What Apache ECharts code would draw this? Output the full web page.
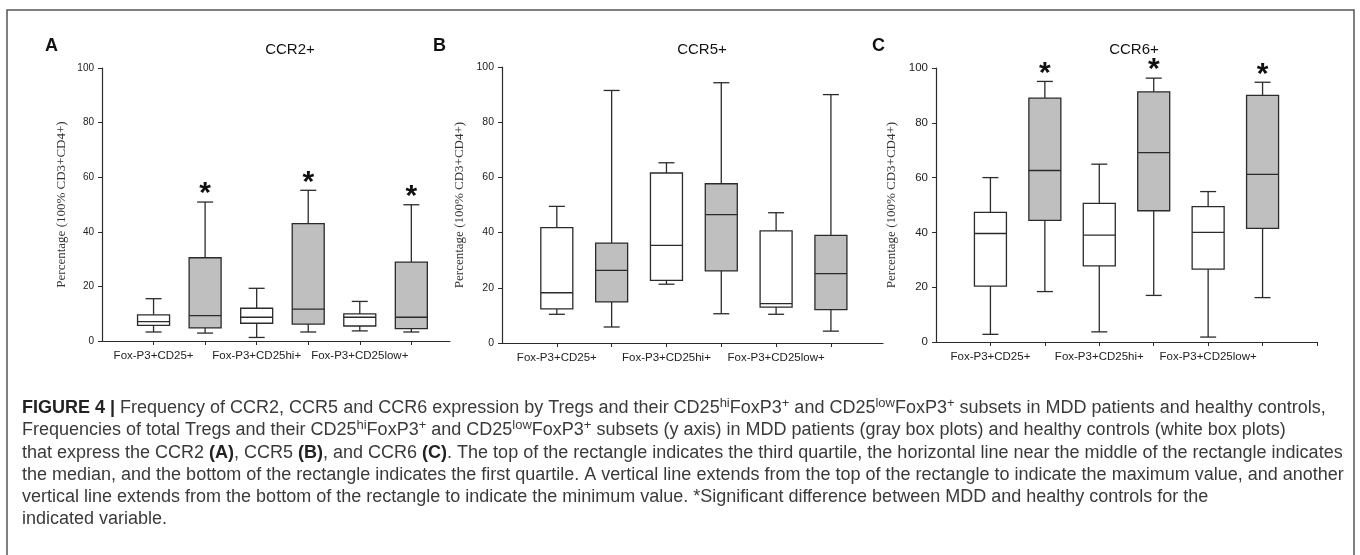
<!DOCTYPE html>
<html>
<head>
<meta charset="utf-8">
<script src="https://cdn.jsdelivr.net/npm/echarts@6/dist/echarts.min.js"></script>
<style>
  html, body { margin: 0; padding: 0; background: #fff; }
  #chart { width: 1360px; height: 555px; }
</style>
</head>
<body>
<div id="chart"></div>
<script>
// x labels, one per pair of boxes
const groupLabels = ['Fox-P3+CD25+', 'Fox-P3+CD25hi+', 'Fox-P3+CD25low+'];

// each box: [min, Q1, median, Q3, max]
const ccr2Healthy = [[3.3, 5.7, 7.1, 9.6, 15.5], [1.3, 6.5, 8.7, 12.0, 19.3], [3.7, 5.5, 8.7, 9.9, 14.5]];
const ccr2MDD = [[2.9, 4.8, 9.3, 30.5, 50.9], [3.3, 6.2, 11.7, 43.0, 55.2], [3.3, 4.5, 8.7, 28.9, 49.9]];
const ccr2Significant = [1, 1, 1];

const ccr5Healthy = [[10.4, 12.4, 18.2, 41.8, 49.5], [21.3, 22.7, 35.4, 61.6, 65.3], [10.4, 13.0, 14.3, 40.6, 47.2]];
const ccr5MDD = [[5.8, 14.9, 26.3, 36.2, 91.5], [10.6, 26.1, 46.5, 57.7, 94.3], [4.3, 12.1, 25.1, 39.0, 90.0]];
const ccr5Significant = [0, 0, 0];

const ccr6Healthy = [[2.8, 20.4, 39.6, 47.3, 60.0], [3.7, 27.8, 39.0, 50.6, 64.9], [1.8, 26.6, 40.0, 49.4, 54.9]];
const ccr6MDD = [[18.4, 44.4, 62.6, 89.0, 95.1], [17.0, 47.9, 69.1, 91.3, 96.3], [16.2, 41.5, 61.2, 90.0, 94.8]];
const ccr6Significant = [1, 1, 1];

const yMin = 0;
const yMax = 100;
const yStep = 20;

const panels = [
  { letter: 'A', title: 'CCR2+', healthy: ccr2Healthy, mdd: ccr2MDD, sig: ccr2Significant,
    left: 102, top: 68, width: 348, height: 273, xMax: 6.75, letterX: 40, titleX: 285, nameGap: 34, tickFont: 10 },
  { letter: 'B', title: 'CCR5+', healthy: ccr5Healthy, mdd: ccr5MDD, sig: ccr5Significant,
    left: 502, top: 67, width: 381, height: 276, xMax: 6.95, letterX: 428, titleX: 697, nameGap: 36, tickFont: 10.5 },
  { letter: 'C', title: 'CCR6+', healthy: ccr6Healthy, mdd: ccr6MDD, sig: ccr6Significant,
    left: 936, top: 68, width: 381, height: 274, xMax: 7, letterX: 867, titleX: 1129, nameGap: 38, tickFont: 11.5 }
];

const LINE = '#2b2b2b';
const GRAY = '#bfbfbf';
const CAPTION_FONT = 'Liberation Sans';

function renderBox(params, api) {
  const x = api.value(0);
  const at = (d) => api.coord([x, api.value(d)]);
  const lo = at(1), q1 = at(2), md = at(3), q3 = at(4), hi = at(5);
  const cx = lo[0];
  const hw = 16;
  const cw = 8;
  const s = { stroke: LINE, lineWidth: 1.3 };
  const children = [
    { type: 'line', shape: { x1: cx, y1: hi[1], x2: cx, y2: q3[1] }, style: s },
    { type: 'line', shape: { x1: cx, y1: q1[1], x2: cx, y2: lo[1] }, style: s },
    { type: 'line', shape: { x1: cx - cw, y1: hi[1], x2: cx + cw, y2: hi[1] }, style: s },
    { type: 'line', shape: { x1: cx - cw, y1: lo[1], x2: cx + cw, y2: lo[1] }, style: s },
    { type: 'rect', shape: { x: cx - hw, y: q3[1], width: hw * 2, height: q1[1] - q3[1] },
      style: { fill: api.visual('color'), stroke: LINE, lineWidth: 1.3 } },
    { type: 'line', shape: { x1: cx - hw, y1: md[1], x2: cx + hw, y2: md[1] }, style: s }
  ];
  if (api.value(6)) {
    children.push({
      type: 'text', x: cx, y: hi[1] - 8,
      style: { text: '*', fontFamily: 'Liberation Sans', fontWeight: 'bold', fontSize: 30,
        fill: '#111', align: 'center', textAlign: 'center', verticalAlign: 'middle', textVerticalAlign: 'middle' }
    });
  }
  return { type: 'group', children: children };
}

const grid = [], xAxis = [], yAxis = [], series = [], title = [];

panels.forEach(function (p, k) {
  grid.push({ left: p.left, top: p.top, width: p.width, height: p.height });
  const ticks = [];
  for (let t = 1; t <= Math.floor(p.xMax); t++) ticks.push(t);
  xAxis.push({
    type: 'value', gridIndex: k, min: 0, max: p.xMax, splitLine: { show: false },
    axisLine: { lineStyle: { color: LINE, width: 1.2 } },
    axisTick: { length: 4, customValues: ticks, lineStyle: { color: LINE } },
    axisLabel: {
      customValues: [1, 3, 5], margin: 9, fontSize: 11.5, color: '#222', fontFamily: 'Liberation Sans',
      formatter: (v) => groupLabels[(v - 1) / 2] || ''
    }
  });
  yAxis.push({
    type: 'value', gridIndex: k, min: yMin, max: yMax, interval: yStep, splitLine: { show: false },
    axisLine: { show: true, lineStyle: { color: LINE, width: 1.2 } },
    axisTick: { show: true, length: 4, lineStyle: { color: LINE } },
    axisLabel: { margin: 8, fontSize: p.tickFont, color: '#222', fontFamily: 'Liberation Sans' },
    name: 'Percentage (100% CD3+CD4+)', nameLocation: 'middle', nameRotate: 90, nameGap: p.nameGap,
    nameTextStyle: { fontFamily: 'Liberation Serif', fontSize: 13, color: '#333' }
  });
  title.push({
    text: p.title, left: p.titleX, top: 37, textAlign: 'center',
    textStyle: { fontFamily: 'Liberation Sans', fontSize: 15, fontWeight: 'normal', color: '#111' }
  });
  title.push({
    text: p.letter, left: p.letterX, top: 32,
    textStyle: { fontFamily: 'Liberation Sans', fontSize: 18, fontWeight: 'bold', color: '#111' }
  });
  const healthyData = p.healthy.map((b, i) => [2 * i + 1].concat(b, [0]));
  const mddData = p.mdd.map((b, i) => [2 * i + 2].concat(b, [p.sig[i]]));
  [[healthyData, '#ffffff'], [mddData, GRAY]].forEach(function (pair) {
    series.push({
      type: 'custom', xAxisIndex: k, yAxisIndex: k, renderItem: renderBox,
      itemStyle: { color: pair[1] }, encode: { x: 0, y: [1, 2, 3, 4, 5] },
      data: pair[0], silent: true, animation: false
    });
  });
});

// caption lines
const captionLines = [
  '{b|FIGURE 4 |} Frequency of CCR2, CCR5 and CCR6 expression by Tregs and their CD25{s|hi}FoxP3{s|+} and CD25{s|low}FoxP3{s|+} subsets in MDD patients and healthy controls,',
  'Frequencies of total Tregs and their CD25{s|hi}FoxP3{s|+} and CD25{s|low}FoxP3{s|+} subsets (y axis) in MDD patients (gray box plots) and healthy controls (white box plots)',
  'that express the CCR2 {b|(A)}, CCR5 {b|(B)}, and CCR6 {b|(C)}. The top of the rectangle indicates the third quartile, the horizontal line near the middle of the rectangle indicates',
  'the median, and the bottom of the rectangle indicates the first quartile. A vertical line extends from the top of the rectangle to indicate the maximum value, and another',
  'vertical line extends from the bottom of the rectangle to indicate the minimum value. *Significant difference between MDD and healthy controls for the',
  'indicated variable.'
];

const graphic = [{
  type: 'rect', shape: { x: 7, y: 10, width: 1347, height: 600 },
  style: { fill: 'none', stroke: '#555', lineWidth: 1.5 }, silent: true
}];
captionLines.forEach(function (line, i) {
  graphic.push({
    type: 'text', x: 22, y: 408 + i * 22.3, silent: true,
    style: {
      text: line, fontFamily: CAPTION_FONT, fontSize: 18, fill: '#3a3a3a',
      verticalAlign: 'middle', textVerticalAlign: 'middle', lineHeight: 22,
      rich: {
        b: { fontWeight: 'bold', fontSize: 18, fill: '#222', fontFamily: CAPTION_FONT, lineHeight: 22 },
        s: { fontSize: 13, fill: '#3a3a3a', fontFamily: CAPTION_FONT, verticalAlign: 'top', lineHeight: 12 }
      }
    }
  });
});

const chart = echarts.init(document.getElementById('chart'), null, { renderer: 'canvas' });
chart.setOption({
  animation: false,
  backgroundColor: '#fff',
  title: title,
  grid: grid,
  xAxis: xAxis,
  yAxis: yAxis,
  series: series,
  graphic: graphic
});
</script>
</body>
</html>
